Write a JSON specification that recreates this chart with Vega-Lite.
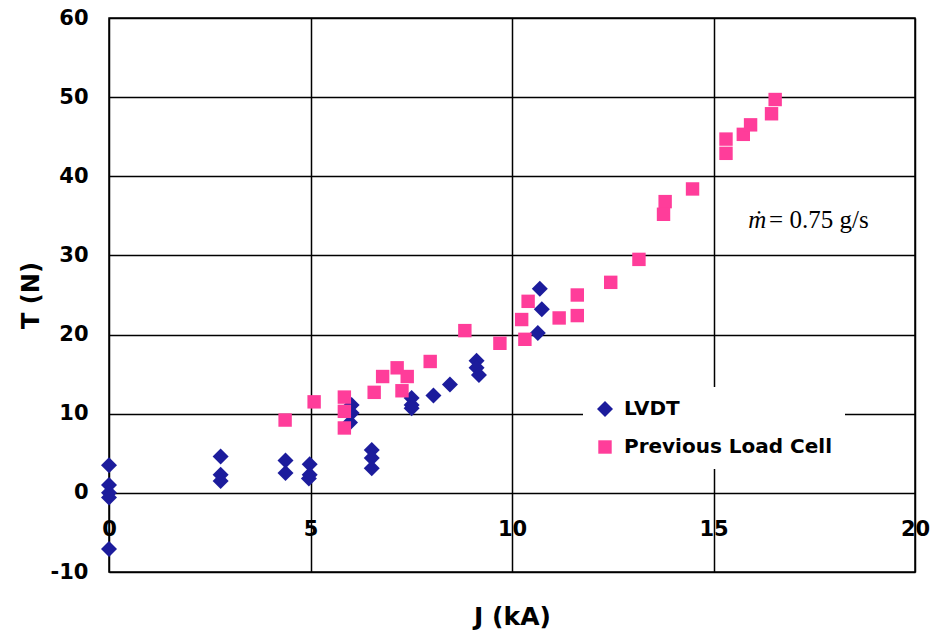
{
  "$schema": "https://vega.github.io/schema/vega-lite/v6.json",
  "width": 806,
  "height": 554,
  "autosize": {"type": "none"},
  "padding": {"left": 109, "top": 18, "right": 16, "bottom": 58},
  "background": "white",
  "config": {
    "view": {"stroke": "black", "strokeWidth": 1.5},
    "font": "DejaVu Sans"
  },
  "datasets": {
    "pts": [
      {"J": 0, "T": 3.5, "series": "LVDT"},
      {"J": 0, "T": 1.0, "series": "LVDT"},
      {"J": 0, "T": 0.0, "series": "LVDT"},
      {"J": 0, "T": -0.6, "series": "LVDT"},
      {"J": 0, "T": -7.1, "series": "LVDT"},
      {"J": 2.77, "T": 4.6, "series": "LVDT"},
      {"J": 2.77, "T": 2.3, "series": "LVDT"},
      {"J": 2.77, "T": 1.5, "series": "LVDT"},
      {"J": 4.38, "T": 4.1, "series": "LVDT"},
      {"J": 4.38, "T": 2.5, "series": "LVDT"},
      {"J": 4.98, "T": 3.6, "series": "LVDT"},
      {"J": 4.98, "T": 2.3, "series": "LVDT"},
      {"J": 4.96, "T": 1.8, "series": "LVDT"},
      {"J": 6.02, "T": 11.1, "series": "LVDT"},
      {"J": 6.02, "T": 10.1, "series": "LVDT"},
      {"J": 5.98, "T": 8.9, "series": "LVDT"},
      {"J": 6.52, "T": 5.4, "series": "LVDT"},
      {"J": 6.52, "T": 4.4, "series": "LVDT"},
      {"J": 6.52, "T": 3.1, "series": "LVDT"},
      {"J": 7.51, "T": 12.0, "series": "LVDT"},
      {"J": 7.51, "T": 11.1, "series": "LVDT"},
      {"J": 7.51, "T": 10.7, "series": "LVDT"},
      {"J": 8.05, "T": 12.3, "series": "LVDT"},
      {"J": 8.46, "T": 13.7, "series": "LVDT"},
      {"J": 9.12, "T": 16.7, "series": "LVDT"},
      {"J": 9.12, "T": 15.8, "series": "LVDT"},
      {"J": 9.18, "T": 14.9, "series": "LVDT"},
      {"J": 10.69, "T": 25.8, "series": "LVDT"},
      {"J": 10.74, "T": 23.2, "series": "LVDT"},
      {"J": 10.64, "T": 20.2, "series": "LVDT"},
      {"J": 4.37, "T": 9.2, "series": "Previous Load Cell"},
      {"J": 5.09, "T": 11.5, "series": "Previous Load Cell"},
      {"J": 5.84, "T": 12.1, "series": "Previous Load Cell"},
      {"J": 5.84, "T": 10.3, "series": "Previous Load Cell"},
      {"J": 5.84, "T": 8.2, "series": "Previous Load Cell"},
      {"J": 6.58, "T": 12.7, "series": "Previous Load Cell"},
      {"J": 6.79, "T": 14.7, "series": "Previous Load Cell"},
      {"J": 7.15, "T": 15.8, "series": "Previous Load Cell"},
      {"J": 7.40, "T": 14.7, "series": "Previous Load Cell"},
      {"J": 7.27, "T": 12.9, "series": "Previous Load Cell"},
      {"J": 7.97, "T": 16.6, "series": "Previous Load Cell"},
      {"J": 8.83, "T": 20.5, "series": "Previous Load Cell"},
      {"J": 9.70, "T": 18.9, "series": "Previous Load Cell"},
      {"J": 10.40, "T": 24.2, "series": "Previous Load Cell"},
      {"J": 10.24, "T": 21.9, "series": "Previous Load Cell"},
      {"J": 10.32, "T": 19.4, "series": "Previous Load Cell"},
      {"J": 11.17, "T": 22.1, "series": "Previous Load Cell"},
      {"J": 11.62, "T": 25.0, "series": "Previous Load Cell"},
      {"J": 11.62, "T": 22.4, "series": "Previous Load Cell"},
      {"J": 12.45, "T": 26.6, "series": "Previous Load Cell"},
      {"J": 13.15, "T": 29.5, "series": "Previous Load Cell"},
      {"J": 13.80, "T": 36.8, "series": "Previous Load Cell"},
      {"J": 13.76, "T": 35.2, "series": "Previous Load Cell"},
      {"J": 14.48, "T": 38.4, "series": "Previous Load Cell"},
      {"J": 15.31, "T": 44.7, "series": "Previous Load Cell"},
      {"J": 15.31, "T": 42.9, "series": "Previous Load Cell"},
      {"J": 15.74, "T": 45.3, "series": "Previous Load Cell"},
      {"J": 15.92, "T": 46.5, "series": "Previous Load Cell"},
      {"J": 16.44, "T": 47.9, "series": "Previous Load Cell"},
      {"J": 16.53, "T": 49.7, "series": "Previous Load Cell"}
    ],
    "notes": [
      {"J": 15.86, "T": 33.5, "part": "m", "label": "ṁ"},
      {"J": 16.38, "T": 33.5, "part": "rest", "label": "= 0.75 g/s"}
    ]
  },
  "layer": [
    {
      "data": {"name": "pts"},
      "mark": {"type": "point", "filled": true, "opacity": 1, "strokeWidth": 0},
      "encoding": {
        "x": {
          "field": "J", "type": "quantitative",
          "scale": {"domain": [0, 20], "nice": false, "zero": false},
          "axis": {
            "title": "J (kA)", "values": [0, 5, 10, 15, 20], "offset": -79,
            "domain": false, "ticks": false,
            "grid": true, "gridColor": "black", "gridOpacity": 1, "gridWidth": 1.5,
            "labelFont": "DejaVu Sans", "labelFontWeight": "bold", "labelFontSize": 21, "labelColor": "black",
            "labelPadding": 25, "labelFlush": false,
            "titleFont": "DejaVu Sans", "titleFontWeight": "bold", "titleFontSize": 25, "titleColor": "black",
            "titlePadding": 65
          }
        },
        "y": {
          "field": "T", "type": "quantitative",
          "scale": {"domain": [-10, 60], "nice": false, "zero": false},
          "axis": {
            "title": "T (N)", "values": [-10, 0, 10, 20, 30, 40, 50, 60],
            "labelExpr": "toString(datum.value)",
            "domain": false, "ticks": false,
            "grid": true, "gridColor": "black", "gridOpacity": 1, "gridWidth": 1.5,
            "labelFont": "DejaVu Sans", "labelFontWeight": "bold", "labelFontSize": 21, "labelColor": "black",
            "labelPadding": 21,
            "titleFont": "DejaVu Sans", "titleFontWeight": "bold", "titleFontSize": 24, "titleColor": "black",
            "titlePadding": 7
          }
        },
        "color": {
          "field": "series", "type": "nominal",
          "scale": {"domain": ["LVDT", "Previous Load Cell"], "range": ["#1c1c9c", "#ff3d9a"]},
          "legend": {
            "title": null, "orient": "none", "legendX": 474, "legendY": 369,
            "fillColor": "white", "padding": 12, "rowPadding": 18,
            "labelFont": "DejaVu Sans", "labelFontWeight": "bold", "labelFontSize": 20, "labelColor": "black",
            "labelOffset": 9, "labelLimit": 400, "symbolStrokeWidth": 0
          }
        },
        "shape": {
          "field": "series", "type": "nominal",
          "scale": {"domain": ["LVDT", "Previous Load Cell"], "range": ["diamond", "square"]}
        },
        "size": {
          "field": "series", "type": "nominal",
          "scale": {"domain": ["LVDT", "Previous Load Cell"], "range": [256, 180]}
        }
      }
    },
    {
      "data": {"name": "notes"},
      "transform": [{"filter": "datum.part == 'm'"}],
      "mark": {"type": "text", "font": "Liberation Serif", "fontStyle": "italic", "fontSize": 25, "align": "left", "baseline": "alphabetic", "color": "black"},
      "encoding": {
        "x": {"field": "J", "type": "quantitative"},
        "y": {"field": "T", "type": "quantitative"},
        "text": {"field": "label"}
      }
    },
    {
      "data": {"name": "notes"},
      "transform": [{"filter": "datum.part == 'rest'"}],
      "mark": {"type": "text", "font": "Liberation Serif", "fontSize": 25, "align": "left", "baseline": "alphabetic", "color": "black"},
      "encoding": {
        "x": {"field": "J", "type": "quantitative"},
        "y": {"field": "T", "type": "quantitative"},
        "text": {"field": "label"}
      }
    }
  ]
}
